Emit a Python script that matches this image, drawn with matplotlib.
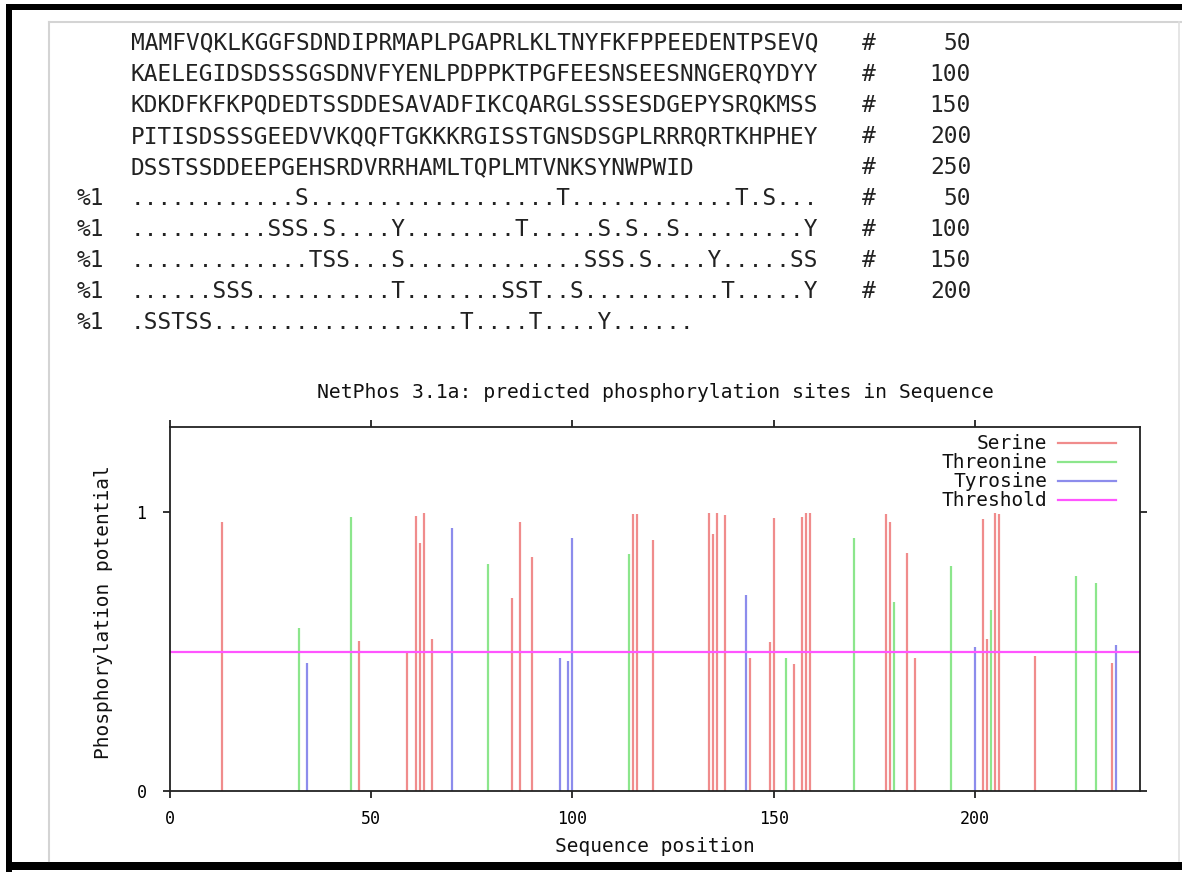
import matplotlib
matplotlib.use("Agg")
import matplotlib.pyplot as plt
from matplotlib.lines import Line2D
from matplotlib.patches import Rectangle

W, H = 1182, 872

# ---------------- data ----------------
seq_lines = [
    "MAMFVQKLKGGFSDNDIPRMAPLPGAPRLKLTNYFKFPPEEDENTPSEVQ",
    "KAELEGIDSDSSSGSDNVFYENLPDPPKTPGFEESNSEESNNGERQYDYY",
    "KDKDFKFKPQDEDTSSDDESAVADFIKCQARGLSSSESDGEPYSRQKMSS",
    "PITISDSSSGEEDVVKQQFTGKKKRGISSTGNSDSGPLRRRQRTKHPHEY",
    "DSSTSSDDEEPGEHSRDVRRHAMLTQPLMTVNKSYNWPWID",
]
seq_numbers = ["50", "100", "150", "200", "250"]
mark_lines = [
    "............S..................T............T.S...",
    "..........SSS.S....Y........T.....S.S..S.........Y",
    ".............TSS...S.............SSS.S....Y.....SS",
    "......SSS..........T.......SST..S..........T.....Y",
    ".SSTSS..................T....T....Y......",
]
mark_numbers = ["50", "100", "150", "200", ""]

serine_pos = [13, 47, 59, 61, 62, 63, 65, 85, 87, 90, 115, 116, 120, 134, 135,
              136, 138, 144, 149, 150, 155, 157, 158, 159, 178, 179, 183, 185,
              202, 203, 205, 206, 215, 234]
serine_val = [0.964, 0.539, 0.495, 0.988, 0.889, 0.998, 0.544, 0.691, 0.964,
              0.840, 0.993, 0.993, 0.900, 0.998, 0.922, 0.998, 0.990, 0.478,
              0.536, 0.981, 0.456, 0.984, 0.998, 0.998, 0.994, 0.964, 0.853,
              0.476, 0.976, 0.544, 0.998, 0.995, 0.484, 0.458]
threonine_pos = [32, 45, 79, 114, 153, 170, 180, 194, 204, 225, 230]
threonine_val = [0.586, 0.982, 0.813, 0.850, 0.478, 0.909, 0.679, 0.808,
                 0.649, 0.771, 0.745]
tyrosine_pos = [34, 70, 97, 99, 100, 143, 200, 235]
tyrosine_val = [0.458, 0.945, 0.476, 0.468, 0.909, 0.703, 0.518, 0.524]
threshold = 0.5
seq_length = 241

xticks = [0, 50, 100, 150, 200]
yticks = [0, 1]
legend_labels = ["Serine", "Threonine", "Tyrosine", "Threshold"]
title = "NetPhos 3.1a: predicted phosphorylation sites in Sequence"

# ---------------- styling ----------------
c_ser = "#f08c8c"
c_thr = "#8ce68c"
c_tyr = "#8c8cec"
c_thr_line = "#ff55ff"
mono = "DejaVu Sans Mono"


def fx(x):
    return x / W


def fy(y):
    return 1 - y / H


fig = plt.figure(figsize=(W / 100, H / 100), dpi=100)
fig.patch.set_facecolor("white")

# outer black frame (screenshot border)
fig.patches.append(Rectangle((fx(6), fy(10)), 1, 6 / H, transform=fig.transFigure,
                             facecolor="black", edgecolor="none"))
fig.patches.append(Rectangle((fx(6), 0), 6 / W, fy(4), transform=fig.transFigure,
                             facecolor="black", edgecolor="none"))
fig.patches.append(Rectangle((fx(6), fy(870)), 1, 8 / H, transform=fig.transFigure,
                             facecolor="black", edgecolor="none"))
# inner light-gray panel
fig.lines.append(Line2D([fx(49), fx(49)], [fy(22), fy(861)], transform=fig.transFigure,
                        color="#d4d4d4", lw=1.5))
fig.lines.append(Line2D([fx(49), 1], [fy(22), fy(22)], transform=fig.transFigure,
                        color="#d4d4d4", lw=1.5))
fig.lines.append(Line2D([fx(1179), fx(1179)], [fy(22), fy(861)], transform=fig.transFigure,
                        color="#e0e0e0", lw=1.2))

# ---------------- sequence text block ----------------
row_y0, row_dy = 43, 31.1
tfs = 16.4
tcol = "#222222"
rows = [(None, s, n) for s, n in zip(seq_lines, seq_numbers)] + \
       [("%1", m, n) for m, n in zip(mark_lines, mark_numbers)]
for i, (lab, s, n) in enumerate(rows):
    y = fy(row_y0 + i * row_dy)
    if lab:
        fig.text(fx(77), y, lab, family=mono, fontsize=tfs, color=tcol, va="center", ha="left")
    fig.text(fx(131), y, s, family=mono, fontsize=tfs, color=tcol, va="center", ha="left")
    if n:
        fig.text(fx(869), y, "#", family=mono, fontsize=tfs, color=tcol, va="center", ha="center")
        fig.text(fx(971), y, n, family=mono, fontsize=tfs, color=tcol, va="center", ha="right")

# ---------------- chart ----------------
ax = fig.add_axes([fx(170), fy(791), (1140 - 170) / W, (791 - 427) / H])
ax.set_xlim(0, seq_length)
ax.set_ylim(0, 1.306)

ax.vlines(serine_pos, 0, serine_val, colors=c_ser, lw=1.6)
ax.vlines(threonine_pos, 0, threonine_val, colors=c_thr, lw=1.6)
ax.vlines(tyrosine_pos, 0, tyrosine_val, colors=c_tyr, lw=1.6)
ax.axhline(threshold, color=c_thr_line, lw=1.6)

for sp in ax.spines.values():
    sp.set_color("#222222")
    sp.set_linewidth(1.3)

ax.set_xticks(xticks)
ax.set_yticks(yticks)
ax.set_xticklabels([str(t) for t in xticks], family=mono, fontsize=12)
ax.set_yticklabels([str(t) for t in yticks], family=mono, fontsize=12)
ax.tick_params(axis="both", direction="out", length=5, width=1.3, color="#222222",
               top=True, right=True, labeltop=False, labelright=False)
ax.tick_params(axis="x", pad=9)
ax.tick_params(axis="y", pad=12)

fig.text(fx(655), fy(392), title, family=mono, fontsize=14.2, ha="center", va="center",
         color="#111111")
fig.text(fx(655), fy(846), "Sequence position", family=mono, fontsize=14,
         ha="center", va="center", color="#111111")
fig.text(fx(104), fy(612), "Phosphorylation potential", family=mono, fontsize=14,
         ha="center", va="center", rotation=90, color="#111111")

# legend (gnuplot style: text right-aligned, sample line to the right)
leg_colors = [c_ser, c_thr, c_tyr, c_thr_line]
for i, (lab, col) in enumerate(zip(legend_labels, leg_colors)):
    y = fy(443 + i * 19)
    fig.text(fx(1047), y, lab, family=mono, fontsize=14, ha="right", va="center",
             color="#111111")
    fig.lines.append(Line2D([fx(1058), fx(1116)], [y, y], transform=fig.transFigure,
                            color=col, lw=1.6))

fig.savefig("out.png", dpi=100, facecolor="white")
